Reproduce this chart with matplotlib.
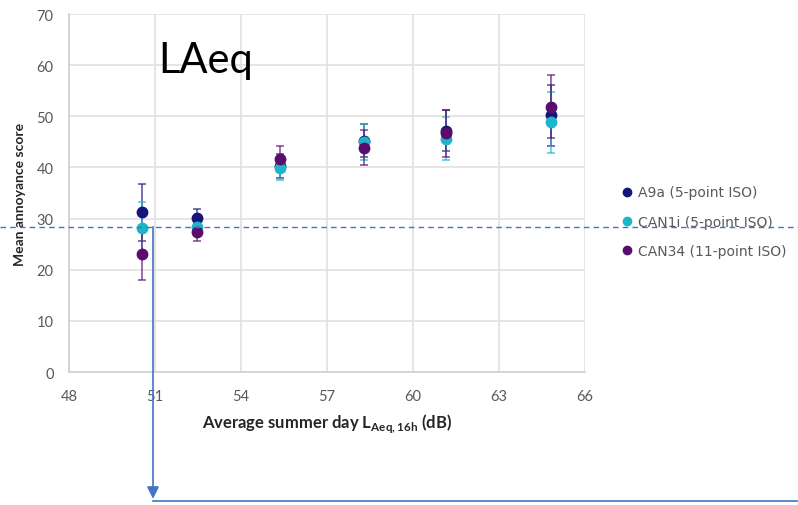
import numpy as np
import matplotlib
matplotlib.use("Agg")
import matplotlib.pyplot as plt
from matplotlib.lines import Line2D

plt.rcParams['font.family'] = ['Lato', 'DejaVu Sans']

# values
levels = [50.55, 52.45, 55.35, 58.3, 61.15, 64.8]

series_names = ["A9a (5-point ISO)", "CAN1i (5-point ISO)", "CAN34 (11-point ISO)"]
series_colors = ["#15167a", "#1fb5c9", "#5a0d6e"]

a9a_mean = [31.2, 30.1, 40.3, 45.2, 47.2, 50.2]
a9a_err = [5.5, 1.8, 2.3, 3.2, 4.0, 6.0]
can1i_mean = [28.2, 28.3, 39.8, 44.9, 45.6, 48.8]
can1i_err = [5.0, 1.6, 2.2, 3.5, 4.2, 6.0]
can34_mean = [23.1, 27.3, 41.6, 43.9, 46.7, 51.9]
can34_err = [5.2, 1.6, 2.5, 3.4, 4.6, 6.2]

means = [a9a_mean, can1i_mean, can34_mean]
errs = [a9a_err, can1i_err, can34_err]

x_ticks = [48, 51, 54, 57, 60, 63, 66]
y_ticks = [0, 10, 20, 30, 40, 50, 60, 70]

threshold = 28.4      # dashed reference line
marker_level = 50.93  # where the arrow drops down
arrow_bottom = -24.8
base_line = -25.2
base_right = 73.4

fig = plt.figure(figsize=(7.98, 5.06), dpi=100)
ax = fig.add_axes([0.0865, 0.2628, 0.6466, 0.7075])

for m, e, c in zip(means, errs, series_colors):
    ax.errorbar(levels, m, yerr=e, fmt='none', ecolor=c, elinewidth=1.4,
                capsize=3, capthick=1.4, alpha=0.6, zorder=3)
    ax.plot(levels, m, 'o', color=c, markersize=7.5, zorder=4)

ax.set_xlim(48, 66)
ax.set_ylim(0, 70)
ax.set_xticks(x_ticks)
ax.set_yticks(y_ticks)
ax.grid(True, color='#e0e0e0', linewidth=1.2)
ax.set_axisbelow(True)
for s in ['top', 'right']:
    ax.spines[s].set_visible(False)
for s in ['left', 'bottom']:
    ax.spines[s].set_color('#d0d0d0')
    ax.spines[s].set_linewidth(1.2)
ax.tick_params(length=0, labelsize=10.5, colors='#595959')
ax.tick_params(axis='y', pad=11)
ax.tick_params(axis='x', pad=12)

ax.set_xlabel("Average summer day L$_{\\mathregular{Aeq,16h}}$ (dB)",
              fontsize=12, fontweight='bold', color='#262626', labelpad=6)
ax.set_ylabel("Mean annoyance score", fontsize=10, fontweight='bold',
              color='#262626', labelpad=8)

ax.text(0.172, 0.838, "LAeq", transform=ax.transAxes, fontsize=30,
        color='black', va='baseline', ha='left')

handles = [Line2D([], [], marker='o', linestyle='none', color=c, markersize=6)
           for c in series_colors]
leg = ax.legend(handles, series_names, loc='center left',
                bbox_to_anchor=(1.05, 0.42), frameon=False,
                prop={'family': 'DejaVu Sans', 'size': 10},
                labelspacing=1.1, handlelength=0.6, handletextpad=0.45)
for t in leg.get_texts():
    t.set_color('#595959')

# annotation lines
blue = '#4472c4'
ax.axhline(threshold, xmin=-0.134, xmax=1.42, color=blue, linestyle='--',
           linewidth=1, dashes=(4, 3), clip_on=False, zorder=5)
ax.annotate('', xy=(marker_level, arrow_bottom), xytext=(marker_level, threshold),
            arrowprops=dict(arrowstyle='-|>', color=blue, lw=1.2,
                            mutation_scale=18, shrinkA=0, shrinkB=0),
            annotation_clip=False)
ax.plot([marker_level, base_right], [base_line, base_line], color=blue,
        linewidth=1.2, clip_on=False)

fig.savefig("out.png", dpi=100)
